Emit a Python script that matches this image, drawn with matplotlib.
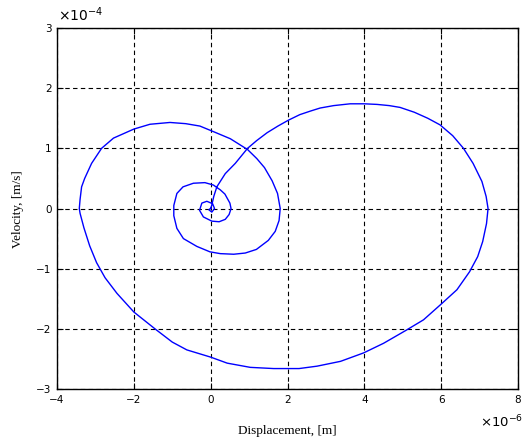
import matplotlib

matplotlib.use("Agg")
import matplotlib.pyplot as plt

# Phase-plane trajectory, in units of 1e-6 m (displacement) and 1e-4 m/s (velocity).
displacement = [
    0.00, 0.03, 0.08, 0.16, 0.38, 0.64, 0.96, 1.20, 1.47, 1.75, 2.03, 2.32, 2.60,
    2.85, 3.20, 3.63, 4.00, 4.33, 4.65, 4.93, 5.30, 5.65, 5.97, 6.30, 6.58, 6.83,
    7.06, 7.17, 7.22, 7.18, 7.08, 6.95, 6.74, 6.41, 5.98, 5.54, 5.07, 4.50, 3.98,
    3.38, 2.77, 2.30, 1.64, 1.03, 0.43, 0.00, -0.62, -1.00, -1.45, -2.00, -2.44,
    -2.75, -2.97, -3.15, -3.30, -3.40, -3.42, -3.40, -3.36, -3.28, -3.10, -2.84,
    -2.53, -2.00, -1.58, -1.06, -0.65, -0.28, 0.10, 0.51, 0.96, 1.20, 1.40, 1.60,
    1.74, 1.81, 1.78, 1.68, 1.50, 1.19, 0.90, 0.60, 0.25, -0.02, -0.36, -0.71,
    -0.88, -0.96, -0.96, -0.88, -0.72, -0.45, -0.15, 0.07, 0.25, 0.37, 0.50, 0.53,
    0.48, 0.38, 0.22, 0.03, -0.19, -0.29, -0.23, -0.10, 0.05, 0.10, 0.03, -0.05,
    0.00,
]
velocity = [
    0.00, 0.06, 0.20, 0.36, 0.58, 0.75, 1.00, 1.13, 1.26, 1.37, 1.47, 1.56, 1.62,
    1.67, 1.71, 1.74, 1.74, 1.73, 1.71, 1.68, 1.60, 1.50, 1.39, 1.21, 1.00, 0.75,
    0.45, 0.20, 0.00, -0.25, -0.55, -0.80, -1.05, -1.35, -1.60, -1.85, -2.03, -2.24,
    -2.40, -2.54, -2.62, -2.66, -2.66, -2.64, -2.57, -2.47, -2.35, -2.22, -2.00,
    -1.72, -1.41, -1.15, -0.90, -0.62, -0.32, -0.08, 0.00, 0.15, 0.36, 0.50, 0.75,
    1.00, 1.17, 1.32, 1.40, 1.43, 1.41, 1.37, 1.27, 1.16, 0.98, 0.83, 0.68, 0.46,
    0.25, 0.00, -0.20, -0.38, -0.53, -0.68, -0.74, -0.76, -0.75, -0.72, -0.63,
    -0.50, -0.33, -0.12, 0.05, 0.25, 0.36, 0.42, 0.43, 0.39, 0.31, 0.24, 0.09, 0.00,
    -0.10, -0.18, -0.22, -0.21, -0.14, -0.03, 0.09, 0.12, 0.08, 0.00, -0.06, -0.02,
    0.00,
]

xticks = [-4, -2, 0, 2, 4, 6, 8]
yticks = [-3, -2, -1, 0, 1, 2, 3]

tick_font = "DejaVu Sans"
label_font = "Liberation Serif"

fig = plt.figure(figsize=(5.25, 4.45), dpi=100, facecolor="white")
ax = fig.add_axes([0.1086, 0.1258, 0.8781, 0.8113])

ax.plot(displacement, velocity, color="#0000ff", linewidth=1.0)

ax.set_xlim(-4, 8)
ax.set_ylim(-3, 3)
ax.set_xticks(xticks)
ax.set_yticks(yticks)
ax.set_xticklabels([f"{t:d}".replace("-", "\u2212") for t in xticks],
                   fontsize=7.5, family=tick_font)
ax.set_yticklabels([f"{t:d}".replace("-", "\u2212") for t in yticks],
                   fontsize=7.5, family=tick_font)
ax.tick_params(direction="in", length=4, width=0.8, top=True, right=True, pad=4)
ax.grid(True, color="black", linestyle=(0, (4, 3)), linewidth=0.8)
for side in ax.spines.values():
    side.set_linewidth(1.0)
    side.set_color("black")

# exponent markers, MATLAB style
fig.text(0.110, 0.968, r"$\times 10^{-4}$", fontsize=10, family=tick_font,
         ha="left", va="center")
fig.text(0.996, 0.052, r"$\times 10^{-6}$", fontsize=9.5, family=tick_font,
         ha="right", va="center")

fig.text(0.548, 0.032, "Displacement, [m]", fontsize=9.5, family=label_font,
         ha="center", va="center")
fig.text(0.034, 0.531, "Velocity, [m/s]", fontsize=9.5, family=label_font,
         ha="center", va="center", rotation=90)

fig.savefig("out.png", dpi=100, facecolor="white")
